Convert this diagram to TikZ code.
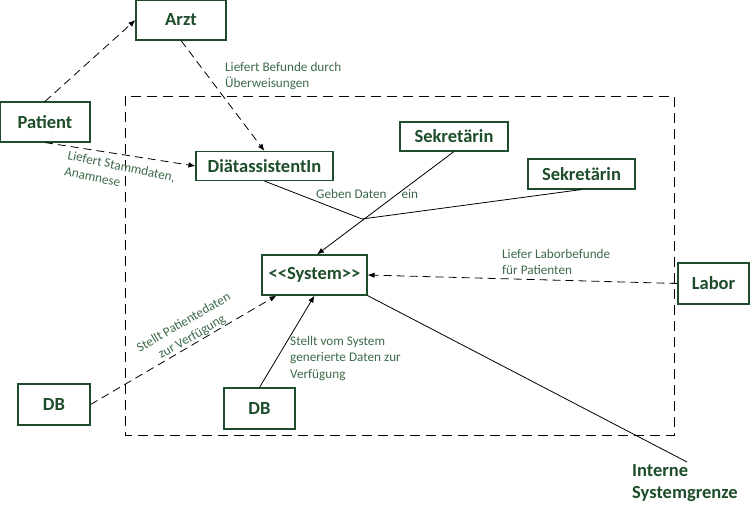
\documentclass[tikz,border=0pt]{standalone}
\usepackage{fontspec}
\setmainfont{Carlito}
\usetikzlibrary{arrows.meta,calc}
\definecolor{boxgreen}{HTML}{1E4D2B}
\definecolor{labgreen}{HTML}{3D6B4A}
\begin{document}
\begin{tikzpicture}[x=1pt,y=-1pt,
  actor/.style={draw=boxgreen,line width=1.1pt,fill=white,inner sep=0pt,
    font=\fontsize{18.5}{22}\selectfont\bfseries,text=boxgreen},
  lab/.style={font=\fontsize{13.2}{16.5}\selectfont,text=labgreen,inner sep=0pt,align=left},
  dep/.style={draw=black,line width=0.8pt,dash pattern=on 8pt off 5pt,-{Latex[length=7pt,width=5.5pt]}},
  assoc/.style={draw=black,line width=0.8pt,-{Latex[length=7pt,width=5.5pt]}},
  plain/.style={draw=black,line width=0.8pt}]
\useasboundingbox (0,0) rectangle (750,506);
\fill[white] (0,0) rectangle (750,506);
% system boundary
\draw[black,line width=1pt,dash pattern=on 10pt off 6pt] (125,96) rectangle (674,435);
% nodes
\node[actor,minimum width=90pt,minimum height=40pt] (arzt) at (181,20) {Arzt};
\node[actor,minimum width=90pt,minimum height=40pt] (patient) at (45,122) {Patient};
\node[actor,minimum width=137pt,minimum height=29pt] (dia) at (264.5,166) {DiätassistentIn};
\node[actor,minimum width=108pt,minimum height=29pt] (sek1) at (454,136.5) {Sekretärin};
\node[actor,minimum width=107pt,minimum height=30pt] (sek2) at (581.5,174) {Sekretärin};
\node[actor,minimum width=105pt,minimum height=40pt] (sys) at (314.5,275) {{<}{<}System{>}{>}};
\node[actor,minimum width=71pt,minimum height=41pt] (labor) at (713.5,283.5) {Labor};
\node[actor,minimum width=72pt,minimum height=41pt] (db1) at (54,404.5) {DB};
\node[actor,minimum width=71pt,minimum height=41pt] (db2) at (259.5,408.5) {DB};
\coordinate (junc) at (362,219);
\coordinate (grenze) at (687,462);
% connectors
\draw[dep] (patient.north) -- (arzt.west);
\draw[dep] (arzt.south) -- (dia.north);
\draw[dep] (patient.south) -- (dia.west);
\draw[plain] (dia.south) -- (junc);
\draw[plain] (sek2.south) -- (junc);
\draw[assoc] (sek1.south) -- ($(sys.north)+(2.5,0)$);
\draw[dep] (labor.west) -- (sys.east);
\draw[dep] (db1.east) -- ($(sys.south west)+(15,0)$);
\draw[assoc] (db2.north) -- (sys.south);
\draw[plain] (sys.south east) -- (grenze);
% labels
\node[lab,anchor=north west] (l1) at (225,62) {Liefert Befunde durch\\Überweisungen};
\node[lab,anchor=north west,rotate=-12] (l2) at (69,150) {Liefert Stammdaten,\\Anamnese};
\node[lab,anchor=north west] (l3) at (316,189) {Geben Daten\hspace{15pt}ein};
\node[lab,anchor=north west] (l4) at (502,249) {Liefer Laborbefunde\\für Patienten};
\node[lab,align=center,rotate=30] (l5) at (188,330) {Stellt Patientedaten\\zur Verfügung};
\node[lab,anchor=north west] (l6) at (290,336) {Stellt vom System\\generierte Daten zur\\Verfügung};
\node[anchor=north west,inner sep=0pt,align=left,font=\fontsize{18.5}{22}\selectfont\bfseries,text=boxgreen] (l7) at (632,464) {Interne\\Systemgrenze};
\end{tikzpicture}
\end{document}
